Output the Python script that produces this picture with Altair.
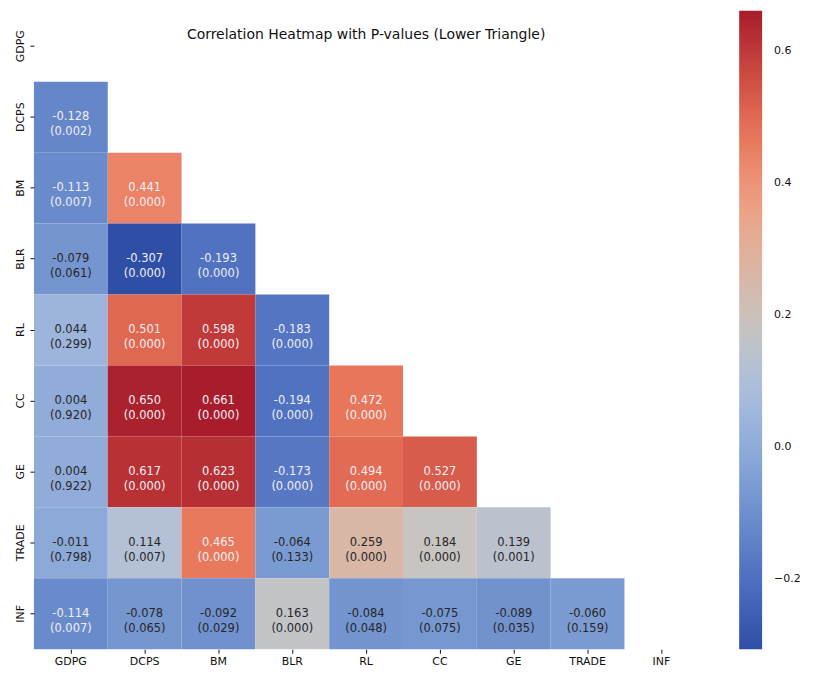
import altair as alt
import pandas as pd
import numpy as np

variables = ["GDPG", "DCPS", "BM", "BLR", "RL", "CC", "GE", "TRADE", "INF"]

corr_rows = {
    "DCPS": [-0.128],
    "BM": [-0.113, 0.441],
    "BLR": [-0.079, -0.307, -0.193],
    "RL": [0.044, 0.501, 0.598, -0.183],
    "CC": [0.004, 0.650, 0.661, -0.194, 0.472],
    "GE": [0.004, 0.617, 0.623, -0.173, 0.494, 0.527],
    "TRADE": [-0.011, 0.114, 0.465, -0.064, 0.259, 0.184, 0.139],
    "INF": [-0.114, -0.078, -0.092, 0.163, -0.084, -0.075, -0.089, -0.060],
}

pval_rows = {
    "DCPS": [0.002],
    "BM": [0.007, 0.000],
    "BLR": [0.061, 0.000, 0.000],
    "RL": [0.299, 0.000, 0.000, 0.000],
    "CC": [0.920, 0.000, 0.000, 0.000, 0.000],
    "GE": [0.922, 0.000, 0.000, 0.000, 0.000, 0.000],
    "TRADE": [0.798, 0.007, 0.000, 0.133, 0.000, 0.000, 0.001],
    "INF": [0.007, 0.065, 0.029, 0.000, 0.048, 0.075, 0.035, 0.159],
}

legend_ticks = [-0.2, 0.0, 0.2, 0.4, 0.6]

# coolwarm-like palette as rendered in the reference
palette = ["#2f4fa6", "#4c6cbf", "#6a8bcb", "#8aa8d8", "#a9bddf", "#c6c5c3",
           "#dcb4a2", "#eea084", "#e8785c", "#cd4a40", "#a81c2c"]

records = []
for row, vals in corr_rows.items():
    for j, v in enumerate(vals):
        p = pval_rows[row][j]
        records.append({
            "row": row,
            "col": variables[j],
            "r": v,
            "label": f"{v:.3f}\n({p:.3f})",
        })
df = pd.DataFrame(records)

vmin, vmax = df["r"].min(), df["r"].max()
domain = list(np.linspace(vmin, vmax, len(palette)))

H = 640
W = 666

x_enc = alt.X("col:N", sort=variables,
              scale=alt.Scale(domain=variables, paddingInner=0, paddingOuter=0),
              axis=alt.Axis(title=None, labelAngle=0, domain=False, grid=False,
                            tickSize=4, labelPadding=2, labelFontSize=11,
                            labelColor="#111", tickColor="#111"))
y_enc = alt.Y("row:N", sort=variables,
              scale=alt.Scale(domain=variables, paddingInner=0, paddingOuter=0),
              axis=alt.Axis(title=None, labelAngle=270, labelAlign="center",
                            labelBaseline="bottom", domain=False, grid=False,
                            tickSize=4, labelPadding=4, labelFontSize=11,
                            labelColor="#111", tickColor="#111"))

rects = alt.Chart(df).mark_rect(strokeWidth=0).encode(
    x=x_enc,
    y=y_enc,
    color=alt.Color("r:Q",
                    scale=alt.Scale(domain=domain, range=palette, interpolate="rgb"),
                    legend=alt.Legend(
                        title=None, orient="none", legendX=W + 41, legendY=0,
                        direction="vertical", gradientLength=H, gradientThickness=23,
                        gradientStrokeWidth=0, values=legend_ticks, format=".1f",
                        labelExpr="replace(datum.label, '-', '\u2212')",
                        labelFontSize=11, labelOffset=12, labelColor="#111")),
)

texts = alt.Chart(df).mark_text(lineBreak="\n", lineHeight=15, fontSize=11.5,
                                baseline="middle", align="center").encode(
    x=alt.X("col:N", sort=variables),
    y=alt.Y("row:N", sort=variables),
    text="label:N",
    color=alt.condition("datum.r < -0.1 || datum.r > 0.4",
                        alt.value("#eeeef2"), alt.value("#262626")),
)

chart = alt.layer(rects, texts).properties(
    width=W, height=H,
    title=alt.TitleParams("Correlation Heatmap with P-values (Lower Triangle)",
                          fontSize=14, fontWeight="normal", color="#111",
                          anchor="middle", baseline="middle", offset=-38),
    autosize=alt.AutoSizeParams(type="none"),
    padding={"left": 26, "top": 2, "right": 110, "bottom": 17},
).configure(
    font="DejaVu Sans",
    view=alt.ViewConfig(strokeWidth=0, stroke="transparent"),
)

chart.save("out.html", embed_options={"renderer": "svg", "actions": False})
